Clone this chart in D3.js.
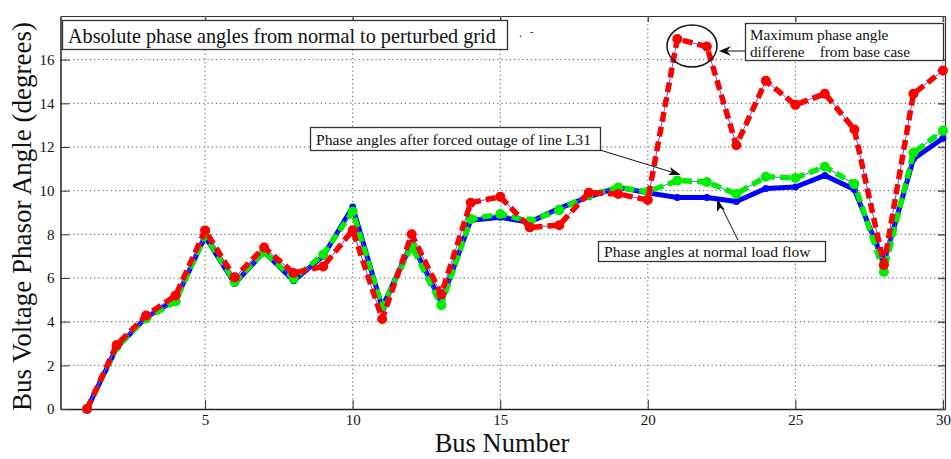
<!DOCTYPE html>
<html><head><meta charset="utf-8">
<script src="https://cdn.jsdelivr.net/npm/d3@7"></script>
<style>body{margin:0;background:#fff}svg{display:block}text{font-family:"Liberation Serif","Times New Roman",serif}</style>
</head><body>
<script>
const buses = [1,2,3,4,5,6,7,8,9,10,11,12,13,14,15,16,17,18,19,20,21,22,23,24,25,26,27,28,29,30];
const normalFlow = [0,2.8,4.2,5.0,7.9,5.75,7.2,5.87,7.0,9.25,4.65,7.6,4.9,8.65,8.78,8.55,9.19,9.72,10.15,9.9,9.69,9.69,9.5,10.1,10.17,10.7,10.05,6.7,11.45,12.4];
const outageL31 = [0,2.85,4.15,4.93,7.94,5.82,7.2,5.97,7.08,9.05,4.67,7.46,4.75,8.7,8.93,8.6,9.11,9.8,10.15,9.95,10.46,10.4,9.85,10.64,10.58,11.1,10.3,6.28,11.74,12.74];
const perturbed = [0,2.93,4.28,5.2,8.18,6.02,7.4,6.23,6.53,8.19,4.12,8.0,5.25,9.45,9.72,8.32,8.42,9.91,9.85,9.57,16.95,16.6,12.08,15.03,13.93,14.44,12.8,6.6,14.44,15.5];
const xTicks = [5,10,15,20,25,30];
const yTicks = [0,2,4,6,8,10,12,14,16];

const W = 951, H = 459;
const SERIF = "Liberation Serif, Times New Roman, serif";
const svg = d3.select("body").append("svg").attr("width", W).attr("height", H);
const x = d3.scaleLinear().domain([0.1, 30.07]).range([60.5, 945]);
const y = d3.scaleLinear().domain([0, 18]).range([409, 16]);
const L = x.range()[0], R = x.range()[1], T = y.range()[1], B = y.range()[0];

// grid
const grid = svg.append("g").attr("stroke", "#555").attr("stroke-width", 1).attr("stroke-dasharray", "1.2,3");
grid.selectAll("line.gx").data(xTicks).join("line").attr("x1", d => x(d)).attr("x2", d => x(d)).attr("y1", T).attr("y2", B);
grid.selectAll("line.gy").data(yTicks.filter(d => d > 0)).join("line").attr("x1", L).attr("x2", R).attr("y1", d => y(d)).attr("y2", d => y(d));

// axes
const xAxis = d3.axisBottom(x).tickValues(xTicks).tickSizeInner(-9).tickSizeOuter(0).tickPadding(5);
const yAxis = d3.axisLeft(y).tickValues(yTicks).tickSizeInner(-9).tickSizeOuter(0).tickPadding(6);
const gx = svg.append("g").attr("transform", `translate(0,${B})`).call(xAxis);
const gy = svg.append("g").attr("transform", `translate(${L},0)`).call(yAxis);
[gx, gy].forEach(g => {
  g.attr("font-family", SERIF);
  g.select(".domain").attr("stroke", "#222").attr("stroke-width", 1.5);
  g.selectAll(".tick line").attr("stroke", "#333");
  g.selectAll("text").attr("font-family", SERIF).attr("font-size", 15).attr("fill", "#111");
});
const gxt = svg.append("g").attr("transform", `translate(0,${T})`).call(d3.axisTop(x).tickValues(xTicks).tickSizeInner(-6).tickSizeOuter(0).tickFormat(""));
const gyr = svg.append("g").attr("transform", `translate(${R},0)`).call(d3.axisRight(y).tickValues(yTicks).tickSizeInner(-7).tickSizeOuter(0).tickFormat(""));
[gxt, gyr].forEach(g => {
  g.select(".domain").attr("stroke", "#333").attr("stroke-width", 1.2);
  g.selectAll(".tick line").attr("stroke", "#555").attr("stroke-width", 1.5);
});

// series
const line = d3.line().x((d, i) => x(buses[i])).y(d => y(d));
function drawSeries(vals, color, width, dash, r, thinBlue) {
  const g = svg.append("g");
  if (thinBlue) g.append("path").attr("d", line(vals)).attr("fill", "none").attr("stroke", "#4a5cff").attr("stroke-width", 1);
  g.append("path").attr("d", line(vals)).attr("fill", "none").attr("stroke", color)
    .attr("stroke-width", width).attr("stroke-dasharray", dash || null).attr("stroke-linejoin", "round");
  g.selectAll("circle").data(vals).join("circle")
    .attr("cx", (d, i) => x(buses[i])).attr("cy", d => y(d)).attr("r", r).attr("fill", color);
}
drawSeries(normalFlow, "#0000ff", 5, null, 3.5, false);
drawSeries(outageL31, "#00ee00", 5.5, "10,5", 5, true);
drawSeries(perturbed, "#ff0000", 5.5, "10,5", 5, true);

// annotations
function box(x0, y0, w, h) {
  svg.append("rect").attr("x", x0).attr("y", y0).attr("width", w).attr("height", h)
    .attr("fill", "#fff").attr("stroke", "#333").attr("stroke-width", 1.3);
}
function label(x0, y0, size, str) {
  return svg.append("text").attr("x", x0).attr("y", y0).attr("font-family", SERIF).attr("font-size", size)
    .attr("fill", "#111").attr("xml:space", "preserve").style("white-space", "pre").text(str);
}
box(62.5, 20.5, 445, 29);
label(68, 42.5, 20.2, "Absolute phase angles from normal to perturbed grid");
label(519, 37, 12, ".");
label(530, 35, 10, "-");

// ellipse + max box
svg.append("ellipse").attr("cx", 692).attr("cy", 46).attr("rx", 25).attr("ry", 21)
  .attr("fill", "none").attr("stroke", "#111").attr("stroke-width", 1.5);
box(745.5, 23.5, 198, 37);
label(750, 40, 15.2, "Maximum phase angle");
label(750, 57, 15.2, "differene    from base case");
svg.append("line").attr("x1", 745).attr("y1", 51).attr("x2", 721).attr("y2", 51).attr("stroke", "#111").attr("stroke-width", 1);
svg.append("path").attr("d", "M719,51 L731,46 L727,51 L731,56 Z").attr("fill", "#111");

// outage box
box(310.5, 127.5, 290, 23);
label(316, 145, 15.6, "Phase angles after forced outage of line L31");
svg.append("line").attr("x1", 600).attr("y1", 150).attr("x2", 678).attr("y2", 174).attr("stroke", "#111").attr("stroke-width", 1);
svg.append("path").attr("d", "M681,175 L668,175 L672,172 L670,167 Z").attr("fill", "#111");

// normal box
box(598.5, 241.5, 227, 20);
label(604, 257, 15.6, "Phase angles at normal load flow");
svg.append("line").attr("x1", 738).attr("y1", 240).attr("x2", 719).attr("y2", 202).attr("stroke", "#111").attr("stroke-width", 1);
svg.append("path").attr("d", "M717,199 L717,212 L720,208 L725,210 Z").attr("fill", "#111");

// axis titles
svg.append("text").attr("x", 502).attr("y", 452).attr("text-anchor", "middle").attr("font-family", SERIF)
  .attr("font-size", 26.5).attr("fill", "#111").text("Bus Number");
svg.append("text").attr("transform", `translate(31,${(T + B) / 2 + 4}) rotate(-90)`).attr("text-anchor", "middle")
  .attr("font-family", SERIF).attr("font-size", 27).attr("fill", "#111").text("Bus Voltage Phasor Angle (degrees)");
</script>
</body></html>
